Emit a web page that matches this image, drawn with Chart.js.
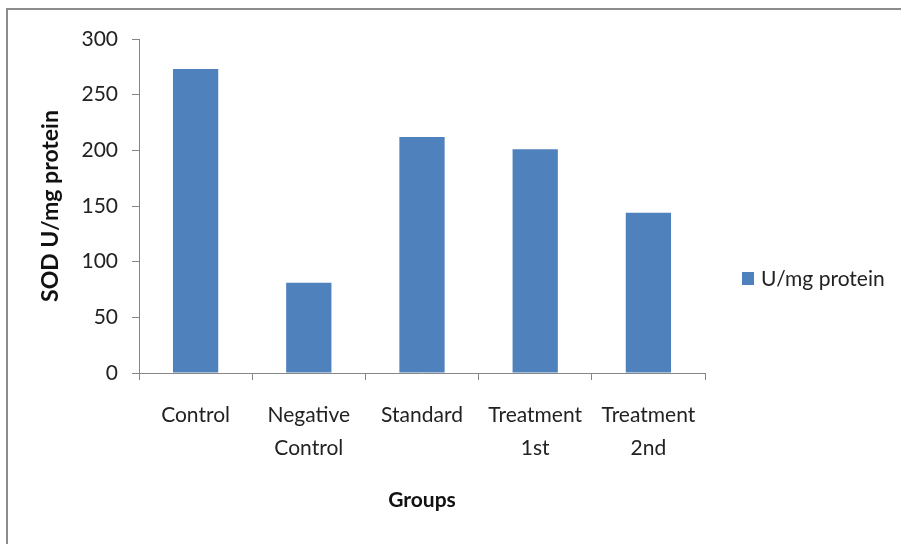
<!DOCTYPE html>
<html>
<head>
<meta charset="utf-8">
<script src="https://cdn.jsdelivr.net/npm/chart.js@4"></script>
<style>
  html, body { margin: 0; padding: 0; background: #fff; }
  #wrap { width: 901px; height: 544px; }
</style>
</head>
<body>
<div id="wrap"><canvas id="myChart" width="901" height="544"></canvas></div>
<script>
"use strict";

const groups = [["Control"], ["Negative", "Control"], ["Standard"], ["Treatment", "1st"], ["Treatment", "2nd"]];
const sodValues = [273, 81, 212, 201, 144];
const seriesName = "U/mg protein";
const yTicks = [0, 50, 100, 150, 200, 250, 300];

const barColor = "#4F81BD";
const axisColor = "#868686";
const fontName = "Lato, 'Open Sans', sans-serif";

// cadre gris + légende à droite
const framePlugin = {
    id: "frame",
    beforeDraw(chart) {
        let c = chart.ctx;
        c.save();
        c.fillStyle = "#fff";
        c.fillRect(0, 0, chart.width, chart.height);
        c.strokeStyle = "#8c8c8c";
        c.lineWidth = 2;
        c.strokeRect(7, 9, 1000, 1000);
        c.restore();
    },
    afterDraw(chart) {
        let c = chart.ctx;
        let ds = chart.data.datasets[0];
        c.save();
        c.fillStyle = ds.backgroundColor;
        c.fillRect(742, 272, 12, 13);
        c.fillStyle = "#222";
        c.font = "21px " + fontName;
        c.textBaseline = "middle";
        c.fillText(ds.label, 761, 279);
        c.restore();
    }
};

const ctx = document.getElementById("myChart");

let chart = new Chart(ctx, {
    type: "bar",
    data: {
        labels: groups,
        datasets: [{
            label: seriesName,
            data: sodValues,
            backgroundColor: barColor,
            barPercentage: 0.4,
            categoryPercentage: 1.0
        }]
    },
    options: {
        responsive: false,
        animation: false,
        layout: { padding: { left: 0, top: 39, right: 196, bottom: 0 } },
        plugins: {
            legend: { display: false },
            tooltip: { enabled: false }
        },
        scales: {
            x: {
                grid: { display: true, drawOnChartArea: false, drawTicks: true, tickLength: 7, color: axisColor, offset: true },
                border: { display: true, color: axisColor },
                ticks: { color: "#222", font: { family: fontName, size: 21, lineHeight: 1.55 }, padding: 19, maxRotation: 0, autoSkip: false },
                title: { display: true, text: "Groups", color: "#111", font: { family: fontName, size: 21, weight: "bold", lineHeight: 1.2 }, padding: { top: 0, bottom: 31 } },
                afterFit(scale) { scale.height = 171; }
            },
            y: {
                min: 0,
                max: 300,
                afterBuildTicks(scale) { scale.ticks = yTicks.map(v => ({ value: v })); },
                grid: { display: true, drawOnChartArea: false, drawTicks: true, tickLength: 7, color: axisColor },
                border: { display: true, color: axisColor },
                ticks: { color: "#222", font: { family: fontName, size: 21 }, padding: 14 },
                title: { display: true, text: "SOD U/mg protein", color: "#111", font: { family: fontName, size: 23, weight: "bold", lineHeight: 1.2 }, padding: { top: 37, bottom: 0 } },
                afterFit(scale) { scale.width = 139; }
            }
        }
    },
    plugins: [framePlugin]
});
</script>
</body>
</html>
